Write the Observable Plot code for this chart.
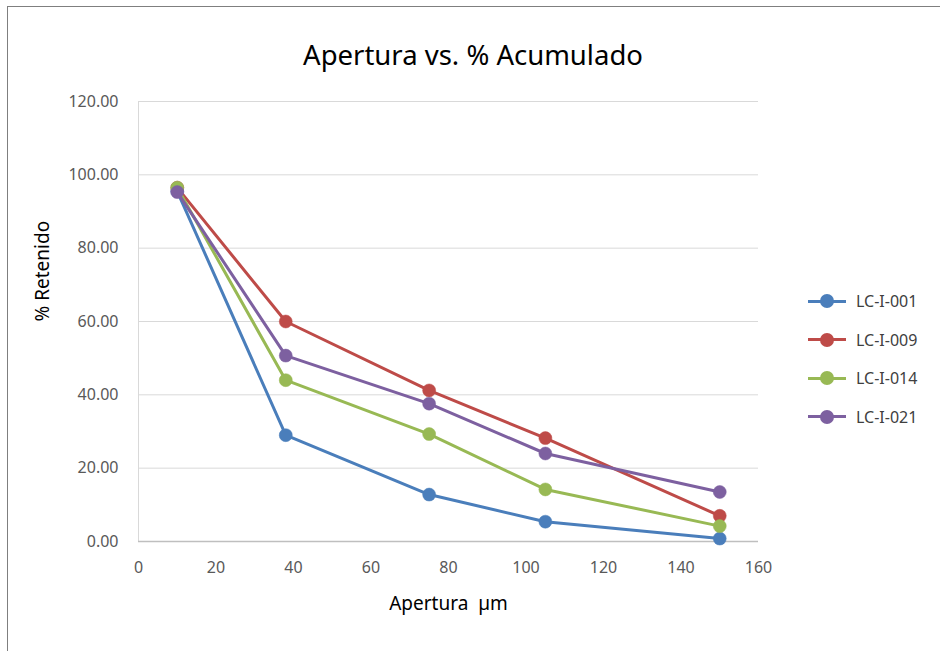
<!DOCTYPE html>
<html>
<head>
<meta charset="utf-8">
<script src="https://cdn.jsdelivr.net/npm/d3@7"></script>
<script src="https://cdn.jsdelivr.net/npm/@observablehq/plot@0.6"></script>
<style>
  html, body { margin: 0; padding: 0; background: #fff; }
  #wrap { position: relative; width: 940px; height: 651px; overflow: hidden; font-family: "Noto Sans", sans-serif; }
  #frame { position: absolute; left: 7px; top: 6px; width: 960px; height: 680px; border: 1px solid #7f7f7f; box-sizing: border-box; }
  #title { position: absolute; left: 0; width: 946px; top: 36px; text-align: center; font-size: 27.5px; color: #000; }
  #chart { position: absolute; left: 0; top: 80px; }
  #legend { position: absolute; left: 808px; top: 282px; }
  .item { display: flex; align-items: center; height: 38.5px; font-size: 16px; color: #404040; }
  .sw { position: relative; width: 38px; height: 14px; margin-right: 10px; }
  .sw .ln { position: absolute; left: 0; right: 0; top: 5.5px; height: 3px; }
  .sw .dt { position: absolute; left: 12px; top: 0; width: 14px; height: 14px; border-radius: 50%; }
</style>
</head>
<body>
<div id="wrap">
  <div id="frame"></div>
  <div id="title">Apertura vs. % Acumulado</div>
  <div id="chart"></div>
  <div id="legend"></div>
</div>
<script>
const apertura = [10, 38, 75, 105, 150];
const seriesNames = ["LC-I-001", "LC-I-009", "LC-I-014", "LC-I-021"];
const lc001 = [95.5, 29.0, 12.8, 5.4, 0.8];
const lc009 = [96.5, 60.0, 41.2, 28.2, 7.0];
const lc014 = [96.5, 44.0, 29.3, 14.2, 4.2];
const lc021 = [95.3, 50.7, 37.6, 24.0, 13.5];
const colors = ["#4a7ebb", "#be4b48", "#98b954", "#7d60a0"];
const yTicks = [0, 20, 40, 60, 80, 100, 120];
const xTicks = [0, 20, 40, 60, 80, 100, 120, 140, 160];

const allSeries = [lc001, lc009, lc014, lc021];
const data = [];
allSeries.forEach((vals, i) => vals.forEach((v, j) => data.push({serie: seriesNames[i], x: apertura[j], y: v})));

const marks = [
  Plot.ruleY(yTicks.filter(d => d > 0), {stroke: "#d9d9d9", strokeWidth: 1}),
  Plot.ruleX([0], {stroke: "#d9d9d9", strokeWidth: 1}),
  Plot.ruleY([0], {stroke: "#bfbfbf", strokeWidth: 1.3}),
  Plot.axisY({ticks: yTicks, tickSize: 0, tickPadding: 20, tickFormat: d => d.toFixed(2), fontSize: 16, color: "#595959", label: null}),
  Plot.axisX({ticks: xTicks, tickSize: 0, tickPadding: 20, fontSize: 16, color: "#595959", label: null}),
  Plot.text(["% Retenido"], {frameAnchor: "left", dx: -96, rotate: -90, fontSize: 19, fill: "#000"}),
  Plot.text(["Apertura  µm"], {frameAnchor: "bottom", dy: 68, fontSize: 19, fill: "#000"})
];
seriesNames.forEach((name, i) => {
  const d = data.filter(r => r.serie === name);
  marks.push(Plot.line(d, {x: "x", y: "y", stroke: colors[i], strokeWidth: 3}));
  marks.push(Plot.dot(d, {x: "x", y: "y", fill: colors[i], r: 6.5, stroke: colors[i], strokeWidth: 0.5}));
});

const chart = Plot.plot({
  width: 780,
  height: 560,
  marginLeft: 138,
  marginRight: 22,
  marginTop: 21,
  marginBottom: 99,
  x: {domain: [0, 160]},
  y: {domain: [0, 120]},
  style: {fontFamily: "'Noto Sans', sans-serif", background: "transparent", overflow: "visible"},
  marks
});
document.getElementById("chart").appendChild(chart);

const legend = document.getElementById("legend");
seriesNames.forEach((name, i) => {
  const item = document.createElement("div");
  item.className = "item";
  item.innerHTML = `<div class="sw"><div class="ln" style="background:${colors[i]}"></div><div class="dt" style="background:${colors[i]}"></div></div><span>${name}</span>`;
  legend.appendChild(item);
});
</script>
</body>
</html>
